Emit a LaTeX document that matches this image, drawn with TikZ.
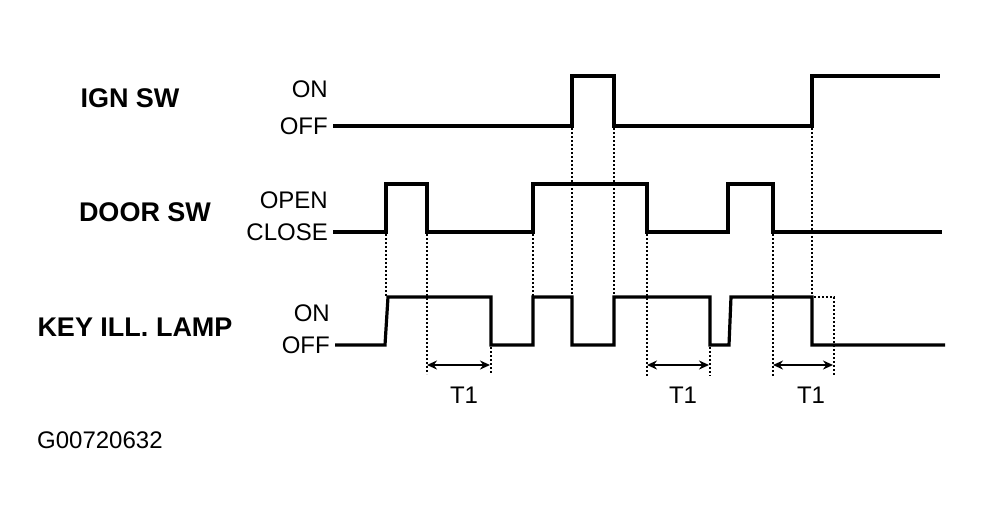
\documentclass[tikz,border=0pt]{standalone}
\usepackage{fontspec}
\setmainfont{Liberation Sans}
\usetikzlibrary{positioning,arrows.meta}

\begin{document}
\begin{tikzpicture}[x=1pt,y=-1pt,
  signal/.style={line width=3.2pt, line join=miter},
  guide/.style={line width=2.4pt, dash pattern=on 2.2pt off 1.8pt},
  span/.style={line width=2pt, {Stealth[length=10pt,width=9pt]}-{Stealth[length=10pt,width=9pt]}},
  rowname/.style={font=\fontsize{27}{30}\selectfont\bfseries, inner sep=0pt},
  level/.style={font=\fontsize{24}{26}\selectfont, inner sep=0pt},
  tlabel/.style={font=\fontsize{24}{26}\selectfont, inner sep=0pt}]
\useasboundingbox (0,0) rectangle (983,525);

% start of each trace
\coordinate (ign) at (333,126);
\coordinate (door) at (333,232);
\coordinate (lamp) at (335,345);

% labels
\node[rowname] (ignname) at (130,98) {IGN SW};
\node[rowname] (doorname) at (145,212) {DOOR SW};
\node[rowname] (lampname) at (135,327) {KEY ILL. LAMP};
\node[level, left=5pt of ign] (ignoff) {OFF};
\node[level, anchor=east] (ignon) at (ignoff.east |- 0,89) {ON};
\node[level, left=5pt of door] (doorclose) {CLOSE};
\node[level, anchor=east] (dooropen) at (doorclose.east |- 0,200) {OPEN};
\node[level, left=5pt of lamp] (lampoff) {OFF};
\node[level, anchor=east] (lampon) at (lampoff.east |- 0,313) {ON};

% traces
\draw[signal] (ign) -- (572,126) -- (572,76) -- (614,76) -- (614,126) -- (812,126) -- (812,76) -- (940,76);
\draw[signal] (door) -- (386,232) -- (386,184) -- (427,184) -- (427,232) -- (533,232) -- (533,184) -- (647,184)
  -- (647,232) -- (728,232) -- (728,184) -- (773,184) -- (773,232) -- (942,232);
\draw[signal] (lamp) -- (385,345) -- (388,297) -- (491,297) -- (491,345) -- (533,345) -- (533,297) -- (572,297)
  -- (572,345) -- (614,345) -- (614,297) -- (710,297) -- (710,345) -- (729,345) -- (731,297) -- (812,297)
  -- (812,345) -- (945,345);

% dotted guides
\draw[guide] (386,234) -- (386,296);
\draw[guide] (427,234) -- (427,374);
\draw[guide] (491,347) -- (491,374);
\draw[guide] (533,234) -- (533,296);
\draw[guide] (572,128) -- (572,344);
\draw[guide] (614,128) -- (614,296);
\draw[guide] (647,234) -- (647,376);
\draw[guide] (710,347) -- (710,376);
\draw[guide] (773,234) -- (773,376);
\draw[guide] (812,128) -- (812,296);
\draw[guide] (814,297) -- (834,297) -- (834,376);

% T1 spans
\coordinate (s1a) at (427,365);
\coordinate (s1b) at (490,365);
\coordinate (s2a) at (647,365);
\coordinate (s2b) at (709,365);
\coordinate (s3a) at (773,365);
\coordinate (s3b) at (833,365);
\draw[span] (s1a) -- (s1b);
\draw[span] (s2a) -- (s2b);
\draw[span] (s3a) -- (s3b);
\node[tlabel] (t1a) at (464,395) {T1};
\node[tlabel] (t1b) at (683,395) {T1};
\node[tlabel] (t1c) at (811,395) {T1};

\node[level, anchor=west] (code) at (37,440) {G00720632};
\end{tikzpicture}
\end{document}
